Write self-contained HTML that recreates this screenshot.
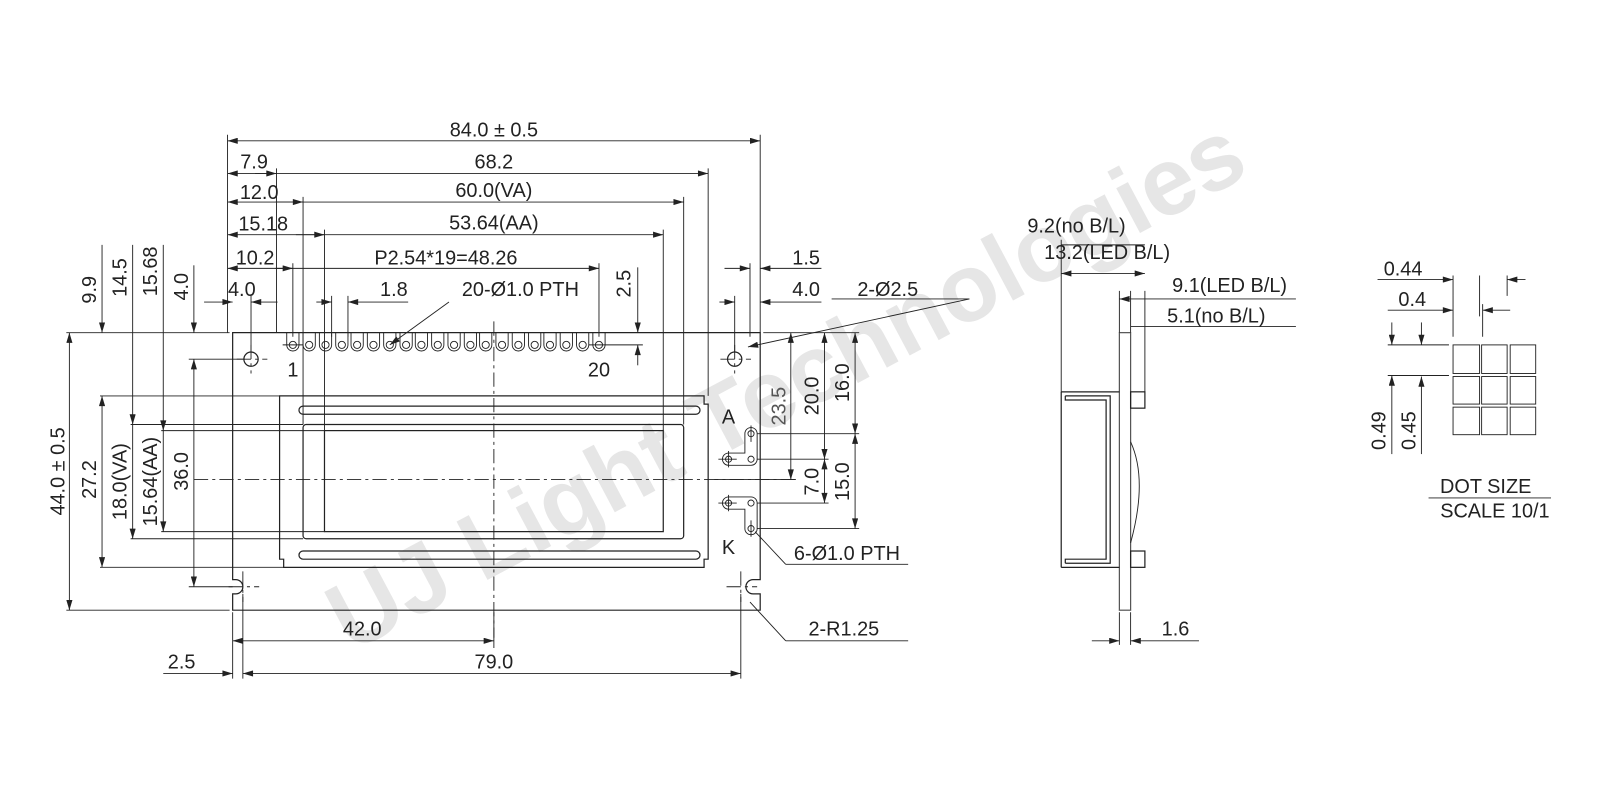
<!DOCTYPE html>
<html><head><meta charset="utf-8"><style>
body{margin:0;background:#fff}
svg{display:block}
text{font-family:"Liberation Sans",Arial,sans-serif;font-size:19.5px;fill:#222}
.l{stroke:#222;stroke-width:1.2;fill:none}
.t{stroke:#222;stroke-width:0.9;fill:none}
.c{stroke:#222;stroke-width:0.9;fill:none;stroke-dasharray:14 4 3 4}
</style></head><body>
<svg width="1600" height="800" viewBox="0 0 1600 800" xmlns="http://www.w3.org/2000/svg">
<defs>
<marker id="a" viewBox="0 0 10 6" refX="10" refY="3" markerWidth="14" markerHeight="6" markerUnits="userSpaceOnUse" orient="auto-start-reverse"><path d="M0,0L10,3L0,6z" fill="#222"/></marker>
</defs>
<g transform="scale(1.0204)">
<text x="785" y="405" transform="rotate(-28 785 405)" text-anchor="middle" style="font-size:94px;font-weight:bold;fill:#e6e6e6">UJ Light Technologies</text>

<path class="l" d="M228,326H745V568H738A7,7 0 0 0 731,575A7,7 0 0 0 738,582H745V598H228V582H231A7,7 0 0 0 238,575A7,7 0 0 0 231,568H228Z"/>
<path class="l" d="M274,388H690V396H694V548H690V556H278V548H274Z"/>
<rect class="l" x="293" y="398" width="393" height="8" rx="4"/>
<rect class="l" x="293" y="540" width="393" height="8" rx="4"/>
<rect class="l" x="297" y="416" width="373" height="112" rx="3"/>
<rect class="l" x="318" y="422" width="332" height="99"/>
<line class="c" x1="484" y1="315" x2="484" y2="625"/>
<line class="c" x1="190" y1="470" x2="780" y2="470"/>
<circle class="l" cx="246" cy="352" r="7"/><circle class="l" cx="720" cy="352" r="7"/>
<path class="c" d="M232,352H262M246,338V366M706,352H736M720,338V366M238,560V590M224,575H254M726,560V590M712,575H742"/>
<g>
<path class="t" d="M281,326V338A6,6 0 0 0 293,338V326"/>
<path class="t" d="M297,326V338A6,6 0 0 0 309,338V326"/>
<path class="t" d="M313,326V338A6,6 0 0 0 325,338V326"/>
<path class="t" d="M329,326V338A6,6 0 0 0 341,338V326"/>
<path class="t" d="M344,326V338A6,6 0 0 0 356,338V326"/>
<path class="t" d="M360,326V338A6,6 0 0 0 372,338V326"/>
<path class="t" d="M376,326V338A6,6 0 0 0 388,338V326"/>
<path class="t" d="M392,326V338A6,6 0 0 0 404,338V326"/>
<path class="t" d="M407,326V338A6,6 0 0 0 419,338V326"/>
<path class="t" d="M423,326V338A6,6 0 0 0 435,338V326"/>
<path class="t" d="M439,326V338A6,6 0 0 0 451,338V326"/>
<path class="t" d="M455,326V338A6,6 0 0 0 467,338V326"/>
<path class="t" d="M470,326V338A6,6 0 0 0 482,338V326"/>
<path class="t" d="M486,326V338A6,6 0 0 0 498,338V326"/>
<path class="t" d="M502,326V338A6,6 0 0 0 514,338V326"/>
<path class="t" d="M518,326V338A6,6 0 0 0 530,338V326"/>
<path class="t" d="M533,326V338A6,6 0 0 0 545,338V326"/>
<path class="t" d="M549,326V338A6,6 0 0 0 561,338V326"/>
<path class="t" d="M565,326V338A6,6 0 0 0 577,338V326"/>
<path class="t" d="M581,326V338A6,6 0 0 0 593,338V326"/>
</g>
<g class="t">
<circle cx="287" cy="338" r="3.5"/><circle cx="303" cy="338" r="3.5"/><circle cx="319" cy="338" r="3.5"/><circle cx="335" cy="338" r="3.5"/><circle cx="350" cy="338" r="3.5"/><circle cx="366" cy="338" r="3.5"/><circle cx="382" cy="338" r="3.5"/><circle cx="398" cy="338" r="3.5"/><circle cx="413" cy="338" r="3.5"/><circle cx="429" cy="338" r="3.5"/><circle cx="445" cy="338" r="3.5"/><circle cx="461" cy="338" r="3.5"/><circle cx="476" cy="338" r="3.5"/><circle cx="492" cy="338" r="3.5"/><circle cx="508" cy="338" r="3.5"/><circle cx="524" cy="338" r="3.5"/><circle cx="539" cy="338" r="3.5"/><circle cx="555" cy="338" r="3.5"/><circle cx="571" cy="338" r="3.5"/><circle cx="587" cy="338" r="3.5"/>
</g>
<path class="t" d="M277,338H297M577,338H630"/>
<text x="287" y="369" text-anchor="middle">1</text>
<text x="587" y="369" text-anchor="middle">20</text>
<text x="714" y="415" text-anchor="middle">A</text>
<text x="714" y="543" text-anchor="middle">K</text>
<path class="t" d="M730,425A6,6 0 0 1 742,425V450A6,6 0 0 1 736,456H714A6,6 0 0 1 714,444H730Z"/>
<path class="t" d="M714,487H736A6,6 0 0 1 742,493V518A6,6 0 0 1 730,518V499H714A6,6 0 0 1 714,487Z"/>
<g class="t"><circle cx="736" cy="425" r="3"/><circle cx="736" cy="450" r="3"/><circle cx="714" cy="450" r="3"/><circle cx="714" cy="493" r="3"/><circle cx="736" cy="493" r="3"/><circle cx="736" cy="518" r="3"/></g>
<path class="t" d="M704,450H722M714,442V458M704,493H722M714,485V501M736,417V433M736,510V526"/>

<g class="t">
<path d="M223,132V326M745,132V326M228,600V665M238,582V665M726,582V665M694,165V388M271,165V326M297,193V416M670,193V416M318,225V422M650,225V422M287,258V330M587,258V330M246,290V345M720,290V345M735,258V330"/>
<path d="M65,326H225M98,388H274M128,416H297M158,422H318M185,352H240M65,598H225M98,556H278M128,528H297M158,521H318M185,575H228M484,600V635"/>
<path d="M748,326H842M742,425H842M742,450H812M700,470H780M742,493H812M742,518H842"/>
</g>
<g class="t">
<line x1="223" y1="138" x2="745" y2="138" marker-start="url(#a)" marker-end="url(#a)"/>
<line x1="223" y1="170" x2="694" y2="170" marker-start="url(#a)" marker-end="url(#a)"/>
<line x1="271" y1="170" x2="250" y2="170" marker-start="url(#a)"/>
<line x1="223" y1="198" x2="670" y2="198" marker-start="url(#a)" marker-end="url(#a)"/>
<line x1="297" y1="198" x2="270" y2="198" marker-start="url(#a)"/>
<line x1="223" y1="230" x2="650" y2="230" marker-start="url(#a)" marker-end="url(#a)"/>
<line x1="318" y1="230" x2="290" y2="230" marker-start="url(#a)"/>
<line x1="223" y1="263" x2="587" y2="263" marker-start="url(#a)" marker-end="url(#a)"/>
<line x1="287" y1="263" x2="270" y2="263" marker-start="url(#a)"/>
<line x1="200" y1="296" x2="228" y2="296" marker-end="url(#a)"/>
<line x1="272" y1="296" x2="246" y2="296" marker-end="url(#a)"/>
<line x1="310" y1="296" x2="325" y2="296" marker-end="url(#a)"/>
<line x1="400" y1="296" x2="341" y2="296" marker-end="url(#a)"/>
<path d="M325,290V330M341,290V330"/>
<line x1="625" y1="262" x2="625" y2="326" marker-end="url(#a)"/>
<line x1="625" y1="358" x2="625" y2="338" marker-end="url(#a)"/>
<line x1="710" y1="263" x2="735" y2="263" marker-end="url(#a)"/>
<line x1="805" y1="263" x2="745" y2="263" marker-end="url(#a)"/>
<line x1="705" y1="296" x2="720" y2="296" marker-end="url(#a)"/>
<line x1="805" y1="296" x2="745" y2="296" marker-end="url(#a)"/>
<line x1="440" y1="296" x2="382" y2="338" marker-end="url(#a)"/>
<line x1="950" y1="293" x2="733" y2="340" marker-end="url(#a)"/>
</g>
<text x="484" y="134" text-anchor="middle">84.0 ± 0.5</text>
<text x="249" y="165" text-anchor="middle">7.9</text>
<text x="484" y="165" text-anchor="middle">68.2</text>
<text x="254" y="195" text-anchor="middle">12.0</text>
<text x="484" y="193" text-anchor="middle">60.0(VA)</text>
<text x="258" y="226" text-anchor="middle">15.18</text>
<text x="484" y="225" text-anchor="middle">53.64(AA)</text>
<text x="250" y="259" text-anchor="middle">10.2</text>
<text x="437" y="259" text-anchor="middle">P2.54*19=48.26</text>
<text x="237" y="290" text-anchor="middle">4.0</text>
<text x="386" y="290" text-anchor="middle">1.8</text>
<text x="510" y="290" text-anchor="middle">20-Ø1.0 PTH</text>
<text x="618" y="278" text-anchor="middle" transform="rotate(-90 618 278)">2.5</text>
<text x="790" y="259" text-anchor="middle">1.5</text>
<text x="790" y="290" text-anchor="middle">4.0</text>
<text x="870" y="290" text-anchor="middle">2-Ø2.5</text>
<line class="t" x1="815" y1="293" x2="950" y2="293"/>

<g class="t">
<line x1="100" y1="240" x2="100" y2="326" marker-end="url(#a)"/>
<line x1="100" y1="556" x2="100" y2="388" marker-start="url(#a)" marker-end="url(#a)"/>
<line x1="130" y1="240" x2="130" y2="416" marker-end="url(#a)"/>
<line x1="130" y1="528" x2="130" y2="416" marker-start="url(#a)"/>
<line x1="160" y1="240" x2="160" y2="422" marker-end="url(#a)"/>
<line x1="160" y1="521" x2="160" y2="422" marker-start="url(#a)"/>
<line x1="190" y1="260" x2="190" y2="326" marker-end="url(#a)"/>
<line x1="190" y1="575" x2="190" y2="352" marker-start="url(#a)" marker-end="url(#a)"/>
<line x1="68" y1="326" x2="68" y2="598" marker-start="url(#a)" marker-end="url(#a)"/>
</g>
<text x="0" y="0" text-anchor="middle" transform="translate(94,284) rotate(-90)">9.9</text>
<text x="0" y="0" text-anchor="middle" transform="translate(124,272) rotate(-90)">14.5</text>
<text x="0" y="0" text-anchor="middle" transform="translate(154,266) rotate(-90)">15.68</text>
<text x="0" y="0" text-anchor="middle" transform="translate(184,281) rotate(-90)">4.0</text>
<text x="0" y="0" text-anchor="middle" transform="translate(63,462) rotate(-90)">44.0 ± 0.5</text>
<text x="0" y="0" text-anchor="middle" transform="translate(94,470) rotate(-90)">27.2</text>
<text x="0" y="0" text-anchor="middle" transform="translate(124,472) rotate(-90)">18.0(VA)</text>
<text x="0" y="0" text-anchor="middle" transform="translate(154,472) rotate(-90)">15.64(AA)</text>
<text x="0" y="0" text-anchor="middle" transform="translate(184,462) rotate(-90)">36.0</text>

<g class="t">
<line x1="775" y1="326" x2="775" y2="470" marker-start="url(#a)" marker-end="url(#a)"/>
<line x1="808" y1="326" x2="808" y2="450" marker-start="url(#a)" marker-end="url(#a)"/>
<line x1="808" y1="450" x2="808" y2="493" marker-start="url(#a)" marker-end="url(#a)"/>
<line x1="838" y1="326" x2="838" y2="425" marker-start="url(#a)" marker-end="url(#a)"/>
<line x1="838" y1="425" x2="838" y2="518" marker-start="url(#a)" marker-end="url(#a)"/>
<path d="M770,553H890M770,553L740,521"/>
<path d="M770,628H890M770,628L735,590"/>
</g>
<text x="0" y="0" text-anchor="middle" transform="translate(770,398) rotate(-90)" style="fill:#555">23.5</text>
<text x="0" y="0" text-anchor="middle" transform="translate(802,388) rotate(-90)">20.0</text>
<text x="0" y="0" text-anchor="middle" transform="translate(832,375) rotate(-90)">16.0</text>
<text x="0" y="0" text-anchor="middle" transform="translate(802,472) rotate(-90)">7.0</text>
<text x="0" y="0" text-anchor="middle" transform="translate(832,472) rotate(-90)">15.0</text>
<text x="830" y="549" text-anchor="middle">6-Ø1.0 PTH</text>
<text x="827" y="623" text-anchor="middle">2-R1.25</text>

<g class="t">
<line x1="228" y1="628" x2="484" y2="628" marker-start="url(#a)" marker-end="url(#a)"/>
<line x1="238" y1="660" x2="726" y2="660" marker-start="url(#a)" marker-end="url(#a)"/>
<line x1="160" y1="660" x2="228" y2="660" marker-end="url(#a)"/>
</g>
<text x="355" y="623" text-anchor="middle">42.0</text>
<text x="484" y="655" text-anchor="middle">79.0</text>
<text x="178" y="655" text-anchor="middle">2.5</text>

<rect class="l" x="1097" y="326" width="11" height="272" style="stroke:#555"/>
<path class="l" d="M1040,384H1097M1040,556H1097M1040,384V556M1044,388H1088V552H1044M1044,388V392H1084V548H1044V552"/>
<rect class="l" x="1108" y="384" width="14" height="16"/>
<rect class="l" x="1108" y="540" width="14" height="16"/>
<path class="t" d="M1108,433Q1125,470 1108,532"/>
<g class="t">
<path d="M1040,235V384M1097,285V326M1108,285V326M1122,285V384M1097,600V632M1108,600V632"/>
<line x1="1040" y1="240" x2="1122" y2="240"/>
<line x1="1040" y1="268" x2="1122" y2="268" marker-start="url(#a)" marker-end="url(#a)"/>
<line x1="1097" y1="293" x2="1270" y2="293" marker-start="url(#a)"/>
<line x1="1108" y1="320" x2="1270" y2="320"/>
<line x1="1070" y1="628" x2="1097" y2="628" marker-end="url(#a)"/>
<line x1="1175" y1="628" x2="1108" y2="628" marker-end="url(#a)"/>
</g>
<text x="1055" y="228" text-anchor="middle">9.2(no B/L)</text>
<text x="1085" y="254" text-anchor="middle">13.2(LED B/L)</text>
<text x="1205" y="286" text-anchor="middle">9.1(LED B/L)</text>
<text x="1192" y="316" text-anchor="middle">5.1(no B/L)</text>
<text x="1152" y="623" text-anchor="middle">1.6</text>

<g class="t">
<rect x="1424" y="338" width="26" height="28"/><rect x="1452" y="338" width="25" height="28"/><rect x="1480" y="338" width="25" height="28"/>
<rect x="1424" y="369" width="26" height="27"/><rect x="1452" y="369" width="25" height="27"/><rect x="1480" y="369" width="25" height="27"/>
<rect x="1424" y="399" width="26" height="27"/><rect x="1452" y="399" width="25" height="27"/><rect x="1480" y="399" width="25" height="27"/>
<path d="M1424,270V330M1450,270V310M1453,298V330M1477,270V290M1360,338H1420M1360,368H1420"/>
<line x1="1350" y1="274" x2="1424" y2="274" marker-end="url(#a)"/>
<line x1="1495" y1="274" x2="1477" y2="274" marker-end="url(#a)"/>
<line x1="1360" y1="304" x2="1424" y2="304" marker-end="url(#a)"/>
<line x1="1480" y1="304" x2="1453" y2="304" marker-end="url(#a)"/>
<line x1="1364" y1="316" x2="1364" y2="338" marker-end="url(#a)"/>
<line x1="1364" y1="445" x2="1364" y2="368" marker-end="url(#a)"/>
<line x1="1393" y1="316" x2="1393" y2="338" marker-end="url(#a)"/>
<line x1="1393" y1="445" x2="1393" y2="369" marker-end="url(#a)"/>
<line x1="1400" y1="488" x2="1520" y2="488"/>
</g>
<text x="1375" y="270" text-anchor="middle">0.44</text>
<text x="1384" y="300" text-anchor="middle">0.4</text>
<text x="0" y="0" text-anchor="middle" transform="translate(1358,422) rotate(-90)">0.49</text>
<text x="0" y="0" text-anchor="middle" transform="translate(1387,422) rotate(-90)">0.45</text>
<text x="1456" y="483" text-anchor="middle">DOT SIZE</text>
<text x="1465" y="507" text-anchor="middle">SCALE 10/1</text>
</g>
</svg>
</body></html>
